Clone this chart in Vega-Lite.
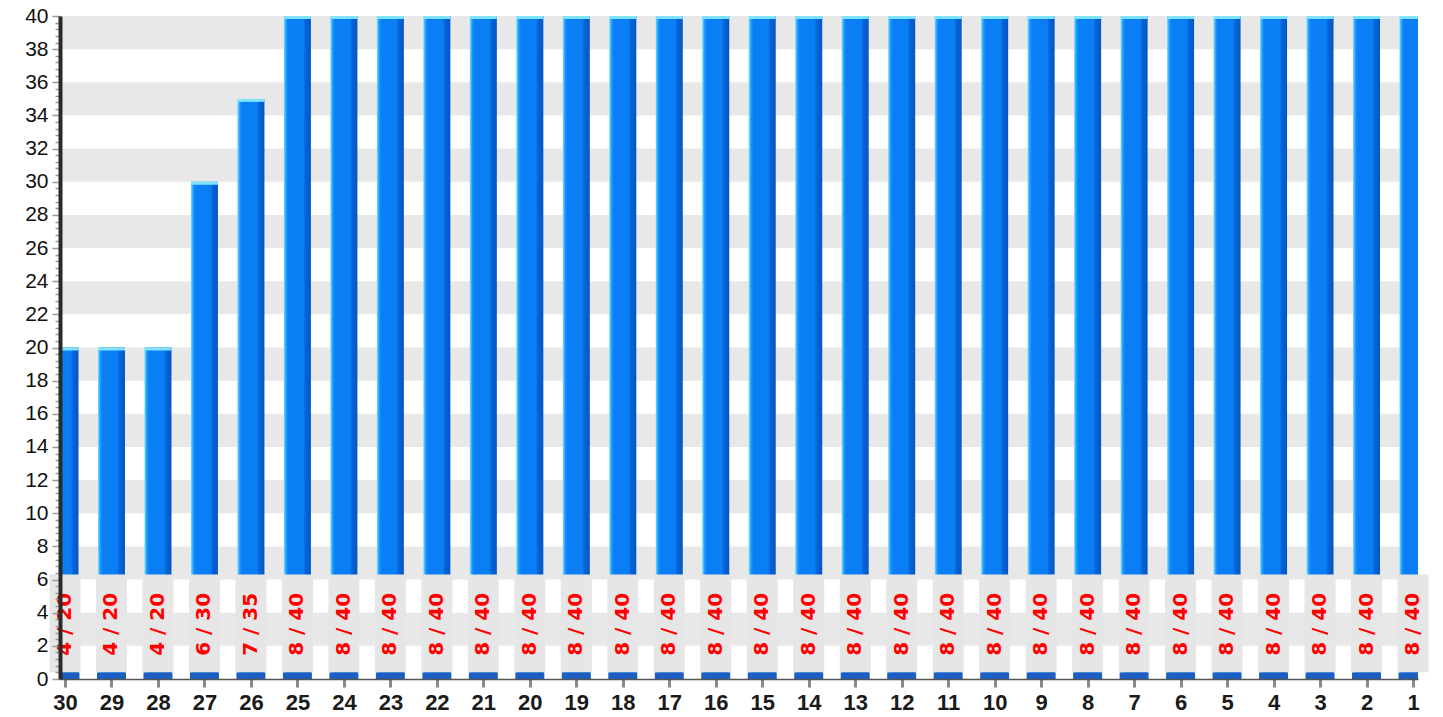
{
  "$schema": "https://vega.github.io/schema/vega-lite/v6.json",
  "autosize": "none",
  "width": 1358,
  "height": 663,
  "padding": {"left": 60, "top": 16, "right": 25, "bottom": 38},
  "background": "white",
  "config": {
    "view": {"stroke": null},
    "font": "Liberation Sans",
    "axisY": {"labelFontSize": 21, "labelColor": "#111111", "labelPadding": 4, "labelFont": "Liberation Sans", "domainColor": "#2a2a2a", "domainWidth": 4, "tickColor": "#9a9a9a", "tickWidth": 1.5, "grid": false, "zindex": 2, "labelOverlap": false, "title": null},
    "axisX": {"labelFontSize": 22, "labelFontWeight": "bold", "labelColor": "#1a1a1a", "labelPadding": 5, "labelFont": "Liberation Sans", "domainColor": "#555555", "domainWidth": 1.5, "tickColor": "#8a8a8a", "tickWidth": 3, "tickSize": 8, "grid": false, "zindex": 1, "labelOverlap": false, "labelFlush": false, "title": null}
  },
  "datasets": {
    "days": [
      {"day": 30, "value": 20, "label": "4 / 20"},
      {"day": 29, "value": 20, "label": "4 / 20"},
      {"day": 28, "value": 20, "label": "4 / 20"},
      {"day": 27, "value": 30, "label": "6 / 30"},
      {"day": 26, "value": 35, "label": "7 / 35"},
      {"day": 25, "value": 40, "label": "8 / 40"},
      {"day": 24, "value": 40, "label": "8 / 40"},
      {"day": 23, "value": 40, "label": "8 / 40"},
      {"day": 22, "value": 40, "label": "8 / 40"},
      {"day": 21, "value": 40, "label": "8 / 40"},
      {"day": 20, "value": 40, "label": "8 / 40"},
      {"day": 19, "value": 40, "label": "8 / 40"},
      {"day": 18, "value": 40, "label": "8 / 40"},
      {"day": 17, "value": 40, "label": "8 / 40"},
      {"day": 16, "value": 40, "label": "8 / 40"},
      {"day": 15, "value": 40, "label": "8 / 40"},
      {"day": 14, "value": 40, "label": "8 / 40"},
      {"day": 13, "value": 40, "label": "8 / 40"},
      {"day": 12, "value": 40, "label": "8 / 40"},
      {"day": 11, "value": 40, "label": "8 / 40"},
      {"day": 10, "value": 40, "label": "8 / 40"},
      {"day": 9, "value": 40, "label": "8 / 40"},
      {"day": 8, "value": 40, "label": "8 / 40"},
      {"day": 7, "value": 40, "label": "8 / 40"},
      {"day": 6, "value": 40, "label": "8 / 40"},
      {"day": 5, "value": 40, "label": "8 / 40"},
      {"day": 4, "value": 40, "label": "8 / 40"},
      {"day": 3, "value": 40, "label": "8 / 40"},
      {"day": 2, "value": 40, "label": "8 / 40"},
      {"day": 1, "value": 40, "label": "8 / 40"}
    ],
    "stripes": [
      {"lo": 2, "hi": 4}, {"lo": 6, "hi": 8}, {"lo": 10, "hi": 12}, {"lo": 14, "hi": 16},
      {"lo": 18, "hi": 20}, {"lo": 22, "hi": 24}, {"lo": 26, "hi": 28}, {"lo": 30, "hi": 32},
      {"lo": 34, "hi": 36}, {"lo": 38, "hi": 40}
    ]
  },
  "layer": [
    {
      "data": {"name": "stripes"},
      "mark": {"type": "rect", "color": "#e8e8e8"},
      "encoding": {
        "y": {"field": "lo", "type": "quantitative", "scale": {"domain": [0, 40], "nice": false},
          "axis": {"values": [0,0.4,0.8,1.2,1.6,2,2.4,2.8,3.2,3.6,4,4.4,4.8,5.2,5.6,6,6.4,6.8,7.2,7.6,8,8.4,8.8,9.2,9.6,10,10.4,10.8,11.2,11.6,12,12.4,12.8,13.2,13.6,14,14.4,14.8,15.2,15.6,16,16.4,16.8,17.2,17.6,18,18.4,18.8,19.2,19.6,20,20.4,20.8,21.2,21.6,22,22.4,22.8,23.2,23.6,24,24.4,24.8,25.2,25.6,26,26.4,26.8,27.2,27.6,28,28.4,28.8,29.2,29.6,30,30.4,30.8,31.2,31.6,32,32.4,32.8,33.2,33.6,34,34.4,34.8,35.2,35.6,36,36.4,36.8,37.2,37.6,38,38.4,38.8,39.2,39.6,40], "tickSize": {"condition": {"test": "abs(datum.value - round(datum.value/2)*2) < 0.01", "value": 8}, "value": 5}, "labelExpr": "abs(datum.value - round(datum.value/2)*2) < 0.01 ? format(datum.value, 'd') : ''", "zindex": 2, "domainWidth": 4, "domainColor": "#2a2a2a", "labelFontSize": 21}
        },
        "y2": {"field": "hi"}
      }
    },
    {
      "data": {"name": "days"},
      "mark": {
        "type": "bar", "size": 27, "clip": true,
        "color": {"gradient": "linear", "x1": 0, "x2": 1, "y1": 0, "y2": 0,
          "stops": [
            {"offset": 0, "color": "#6fe0ff"},
            {"offset": 0.1, "color": "#1890ff"},
            {"offset": 0.18, "color": "#0a7ff5"},
            {"offset": 0.72, "color": "#0a7ff5"},
            {"offset": 0.8, "color": "#0663d6"},
            {"offset": 1, "color": "#0556c4"}
          ]}
      },
      "encoding": {
        "x": {"field": "day", "type": "quantitative",
          "scale": {"domain": [1, 30], "reverse": true, "nice": false, "zero": false},
          "axis": {"values": [1,2,3,4,5,6,7,8,9,10,11,12,13,14,15,16,17,18,19,20,21,22,23,24,25,26,27,28,29,30], "zindex": 1, "labelFontSize": 22}
        },
        "y": {"field": "value", "type": "quantitative",
          "axis": {"values": [0,0.4,0.8,1.2,1.6,2,2.4,2.8,3.2,3.6,4,4.4,4.8,5.2,5.6,6,6.4,6.8,7.2,7.6,8,8.4,8.8,9.2,9.6,10,10.4,10.8,11.2,11.6,12,12.4,12.8,13.2,13.6,14,14.4,14.8,15.2,15.6,16,16.4,16.8,17.2,17.6,18,18.4,18.8,19.2,19.6,20,20.4,20.8,21.2,21.6,22,22.4,22.8,23.2,23.6,24,24.4,24.8,25.2,25.6,26,26.4,26.8,27.2,27.6,28,28.4,28.8,29.2,29.6,30,30.4,30.8,31.2,31.6,32,32.4,32.8,33.2,33.6,34,34.4,34.8,35.2,35.6,36,36.4,36.8,37.2,37.6,38,38.4,38.8,39.2,39.6,40], "tickSize": {"condition": {"test": "abs(datum.value - round(datum.value/2)*2) < 0.01", "value": 8}, "value": 5}, "labelExpr": "abs(datum.value - round(datum.value/2)*2) < 0.01 ? format(datum.value, 'd') : ''", "zindex": 2, "domainWidth": 4, "domainColor": "#2a2a2a", "labelFontSize": 21}
        },
        "y2": {"datum": 0}
      }
    },
    {
      "data": {"name": "days"},
      "mark": {"type": "tick", "orient": "horizontal", "size": 27, "thickness": 3, "yOffset": 1.5, "clip": true, "color": "#7fe3ff", "opacity": 1},
      "encoding": {
        "x": {"field": "day", "type": "quantitative",
          "axis": {"values": [1,2,3,4,5,6,7,8,9,10,11,12,13,14,15,16,17,18,19,20,21,22,23,24,25,26,27,28,29,30], "zindex": 1, "labelFontSize": 22}},
        "y": {"field": "value", "type": "quantitative",
          "axis": {"values": [0,0.4,0.8,1.2,1.6,2,2.4,2.8,3.2,3.6,4,4.4,4.8,5.2,5.6,6,6.4,6.8,7.2,7.6,8,8.4,8.8,9.2,9.6,10,10.4,10.8,11.2,11.6,12,12.4,12.8,13.2,13.6,14,14.4,14.8,15.2,15.6,16,16.4,16.8,17.2,17.6,18,18.4,18.8,19.2,19.6,20,20.4,20.8,21.2,21.6,22,22.4,22.8,23.2,23.6,24,24.4,24.8,25.2,25.6,26,26.4,26.8,27.2,27.6,28,28.4,28.8,29.2,29.6,30,30.4,30.8,31.2,31.6,32,32.4,32.8,33.2,33.6,34,34.4,34.8,35.2,35.6,36,36.4,36.8,37.2,37.6,38,38.4,38.8,39.2,39.6,40], "tickSize": {"condition": {"test": "abs(datum.value - round(datum.value/2)*2) < 0.01", "value": 8}, "value": 5}, "labelExpr": "abs(datum.value - round(datum.value/2)*2) < 0.01 ? format(datum.value, 'd') : ''", "zindex": 2, "domainWidth": 4, "domainColor": "#2a2a2a", "labelFontSize": 21}}
      }
    },
    {
      "data": {"name": "days"},
      "mark": {"type": "bar", "size": 29, "clip": true, "color": "#1c5ec2"},
      "encoding": {
        "x": {"field": "day", "type": "quantitative",
          "axis": {"values": [1,2,3,4,5,6,7,8,9,10,11,12,13,14,15,16,17,18,19,20,21,22,23,24,25,26,27,28,29,30], "zindex": 1, "labelFontSize": 22}},
        "y": {"datum": 0, "type": "quantitative",
          "axis": {"values": [0,0.4,0.8,1.2,1.6,2,2.4,2.8,3.2,3.6,4,4.4,4.8,5.2,5.6,6,6.4,6.8,7.2,7.6,8,8.4,8.8,9.2,9.6,10,10.4,10.8,11.2,11.6,12,12.4,12.8,13.2,13.6,14,14.4,14.8,15.2,15.6,16,16.4,16.8,17.2,17.6,18,18.4,18.8,19.2,19.6,20,20.4,20.8,21.2,21.6,22,22.4,22.8,23.2,23.6,24,24.4,24.8,25.2,25.6,26,26.4,26.8,27.2,27.6,28,28.4,28.8,29.2,29.6,30,30.4,30.8,31.2,31.6,32,32.4,32.8,33.2,33.6,34,34.4,34.8,35.2,35.6,36,36.4,36.8,37.2,37.6,38,38.4,38.8,39.2,39.6,40], "tickSize": {"condition": {"test": "abs(datum.value - round(datum.value/2)*2) < 0.01", "value": 8}, "value": 5}, "labelExpr": "abs(datum.value - round(datum.value/2)*2) < 0.01 ? format(datum.value, 'd') : ''", "zindex": 2, "domainWidth": 4, "domainColor": "#2a2a2a", "labelFontSize": 21}},
        "y2": {"datum": 0.4}
      }
    },
    {
      "data": {"name": "days"},
      "mark": {"type": "bar", "size": 31, "clip": false, "color": "#e6e6e6"},
      "encoding": {
        "x": {"field": "day", "type": "quantitative",
          "axis": {"values": [1,2,3,4,5,6,7,8,9,10,11,12,13,14,15,16,17,18,19,20,21,22,23,24,25,26,27,28,29,30], "zindex": 1, "labelFontSize": 22}},
        "y": {"datum": 0.4, "type": "quantitative",
          "axis": {"values": [0,0.4,0.8,1.2,1.6,2,2.4,2.8,3.2,3.6,4,4.4,4.8,5.2,5.6,6,6.4,6.8,7.2,7.6,8,8.4,8.8,9.2,9.6,10,10.4,10.8,11.2,11.6,12,12.4,12.8,13.2,13.6,14,14.4,14.8,15.2,15.6,16,16.4,16.8,17.2,17.6,18,18.4,18.8,19.2,19.6,20,20.4,20.8,21.2,21.6,22,22.4,22.8,23.2,23.6,24,24.4,24.8,25.2,25.6,26,26.4,26.8,27.2,27.6,28,28.4,28.8,29.2,29.6,30,30.4,30.8,31.2,31.6,32,32.4,32.8,33.2,33.6,34,34.4,34.8,35.2,35.6,36,36.4,36.8,37.2,37.6,38,38.4,38.8,39.2,39.6,40], "tickSize": {"condition": {"test": "abs(datum.value - round(datum.value/2)*2) < 0.01", "value": 8}, "value": 5}, "labelExpr": "abs(datum.value - round(datum.value/2)*2) < 0.01 ? format(datum.value, 'd') : ''", "zindex": 2, "domainWidth": 4, "domainColor": "#2a2a2a", "labelFontSize": 21}},
        "y2": {"datum": 6.3}
      }
    },
    {
      "data": {"name": "days"},
      "mark": {"type": "text", "angle": 270, "color": "#ff0000", "fontSize": 20, "fontWeight": "bold", "font": "DejaVu Sans", "align": "center", "baseline": "middle"},
      "encoding": {
        "x": {"field": "day", "type": "quantitative",
          "axis": {"values": [1,2,3,4,5,6,7,8,9,10,11,12,13,14,15,16,17,18,19,20,21,22,23,24,25,26,27,28,29,30], "zindex": 1, "labelFontSize": 22}},
        "y": {"datum": 3.3, "type": "quantitative",
          "axis": {"values": [0,0.4,0.8,1.2,1.6,2,2.4,2.8,3.2,3.6,4,4.4,4.8,5.2,5.6,6,6.4,6.8,7.2,7.6,8,8.4,8.8,9.2,9.6,10,10.4,10.8,11.2,11.6,12,12.4,12.8,13.2,13.6,14,14.4,14.8,15.2,15.6,16,16.4,16.8,17.2,17.6,18,18.4,18.8,19.2,19.6,20,20.4,20.8,21.2,21.6,22,22.4,22.8,23.2,23.6,24,24.4,24.8,25.2,25.6,26,26.4,26.8,27.2,27.6,28,28.4,28.8,29.2,29.6,30,30.4,30.8,31.2,31.6,32,32.4,32.8,33.2,33.6,34,34.4,34.8,35.2,35.6,36,36.4,36.8,37.2,37.6,38,38.4,38.8,39.2,39.6,40], "tickSize": {"condition": {"test": "abs(datum.value - round(datum.value/2)*2) < 0.01", "value": 8}, "value": 5}, "labelExpr": "abs(datum.value - round(datum.value/2)*2) < 0.01 ? format(datum.value, 'd') : ''", "zindex": 2, "domainWidth": 4, "domainColor": "#2a2a2a", "labelFontSize": 21}},
        "text": {"field": "label"}
      }
    }
  ]
}
